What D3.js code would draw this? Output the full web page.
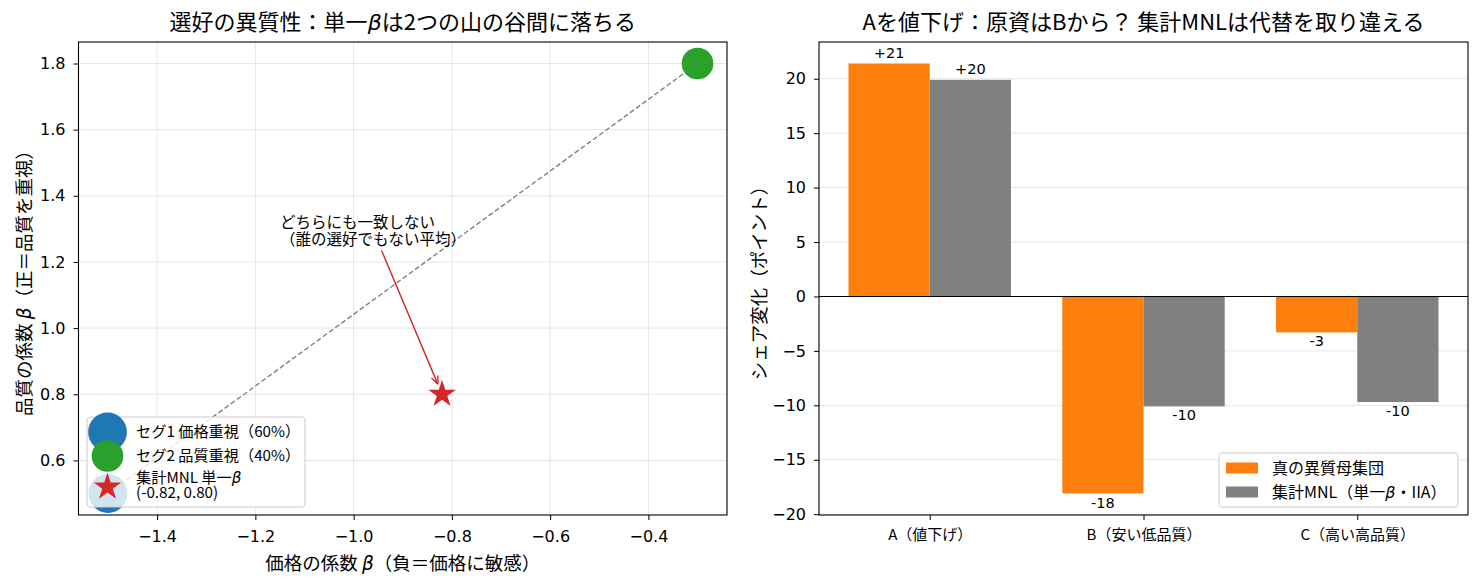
<!DOCTYPE html>
<html>
<head>
<meta charset="utf-8">
<script src="https://cdn.jsdelivr.net/npm/d3@7"></script>
<style>
  body { margin: 0; background: #fff; }
  text { font-family: "Noto Sans CJK JP", sans-serif; fill: #000; }
  .tick text { font-family: "DejaVu Sans", sans-serif; }
</style>
</head>
<body>
<script>
// ---- data ----
var segNames = ["セグ1 価格重視（60%）", "セグ2 品質重視（40%）"];
var segPrice = [-1.5, -0.3];
var segQuality = [0.5, 1.8];
var segShare = [60, 40];
var segColors = ["#1f77b4", "#2ca02c"];
var mnlPoint = [-0.82, 0.80];
var mnlLabel = ["集計MNL 単一β", "(-0.82, 0.80)"];
var noteLines = ["どちらにも一致しない", "（誰の選好でもない平均）"];
var notePos = [-1.15, 1.25];
var priceTicks = [-1.4, -1.2, -1.0, -0.8, -0.6, -0.4];
var qualityTicks = [0.6, 0.8, 1.0, 1.2, 1.4, 1.6, 1.8];

var products = ["A（値下げ）", "B（安い低品質）", "C（高い高品質）"];
var trueShift = [21.4, -18.1, -3.3];
var mnlShift = [19.9, -10.1, -9.7];
var seriesNames = ["真の異質母集団", "集計MNL（単一β・IIA）"];
var seriesColors = ["#ff7f0e", "#808080"];
var shiftTicks = [-20, -15, -10, -5, 0, 5, 10, 15, 20];

var W = 1480, H = 584;
var svg = d3.select("body").append("svg").attr("width", W).attr("height", H);

var gridColor = "#e6e6e6";

function pad(ext, f) {
  var d = (ext[1] - ext[0]) * f;
  return [ext[0] - d, ext[1] + d];
}

// β is drawn as italic like matplotlib mathtext
function richText(sel, str) {
  str.split(/(β)/).forEach(function (part) {
    if (!part) return;
    var t = sel.append("tspan").text(part);
    if (part === "β") t.style("font-family", "DejaVu Sans").style("font-style", "italic");
  });
}

// ================= left: scatter =================
var L = { x0: 78.5, x1: 727, y0: 42, y1: 515 };
var gL = svg.append("g");

var x = d3.scaleLinear()
  .domain(pad(d3.extent(segPrice.concat([mnlPoint[0]])), 0.05))
  .range([L.x0, L.x1]);
var y = d3.scaleLinear()
  .domain(pad(d3.extent(segQuality.concat([mnlPoint[1]])), 0.05))
  .range([L.y1, L.y0]);

gL.selectAll(".vgrid").data(priceTicks).enter().append("line")
  .attr("x1", d => x(d)).attr("x2", d => x(d)).attr("y1", L.y0).attr("y2", L.y1)
  .attr("stroke", gridColor).attr("stroke-width", 1);
gL.selectAll(".hgrid").data(qualityTicks).enter().append("line")
  .attr("x1", L.x0).attr("x2", L.x1).attr("y1", d => y(d)).attr("y2", d => y(d))
  .attr("stroke", gridColor).attr("stroke-width", 1);

gL.append("line")
  .attr("x1", x(segPrice[0])).attr("y1", y(segQuality[0]))
  .attr("x2", x(segPrice[1])).attr("y2", y(segQuality[1]))
  .attr("stroke", "#808080").attr("stroke-width", 1.4).attr("stroke-dasharray", "5,2.6");

var r = d3.scaleSqrt().domain([0, 60]).range([0, 19.4]);
gL.selectAll(".seg").data(segPrice).enter().append("circle")
  .attr("cx", (d, i) => x(d)).attr("cy", (d, i) => y(segQuality[i]))
  .attr("r", (d, i) => r(segShare[i])).attr("fill", (d, i) => segColors[i]);

var starR = 14.5;
var star = d3.symbol().type(d3.symbolStar).size(starR * starR / 0.8908130915292852);
gL.append("path").attr("d", star())
  .attr("transform", "translate(" + x(mnlPoint[0]) + "," + y(mnlPoint[1]) + ")")
  .attr("fill", "#d62728");

// annotation
var note = gL.append("text").attr("font-size", 15.5);
noteLines.forEach(function (s, i) {
  note.append("tspan").attr("x", x(notePos[0]))
    .attr("y", y(notePos[1]) - 17 * (noteLines.length - 1 - i)).text(s);
});
var bb = note.node().getBBox();
var cx = bb.x + bb.width / 2, cy = bb.y + bb.height / 2;
var tx = x(mnlPoint[0]), ty = y(mnlPoint[1]);
var t0 = (bb.y + bb.height + 1 - cy) / (ty - cy);
var sx = cx + (tx - cx) * t0, sy = cy + (ty - cy) * t0;
var len = Math.hypot(tx - sx, ty - sy);
var ux = (tx - sx) / len, uy = (ty - sy) / len;
var ex = tx - ux * 11, ey = ty - uy * 11;
gL.append("line").attr("x1", sx).attr("y1", sy).attr("x2", ex).attr("y2", ey)
  .attr("stroke", "#d62728").attr("stroke-width", 1.4);
[1, -1].forEach(function (s) {
  gL.append("line").attr("x1", ex).attr("y1", ey)
    .attr("x2", ex - ux * 8 + s * uy * 3.5).attr("y2", ey - uy * 8 - s * ux * 3.5)
    .attr("stroke", "#d62728").attr("stroke-width", 1.4);
});

// axes
gL.append("g").attr("transform", "translate(0," + L.y1 + ")")
  .call(d3.axisBottom(x).tickValues(priceTicks).tickFormat(d3.format(".1f")).tickSize(5).tickPadding(11))
  .call(g => g.select(".domain").remove())
  .selectAll("text").attr("font-size", 16);
gL.append("g").attr("transform", "translate(" + L.x0 + ",0)")
  .call(d3.axisLeft(y).tickValues(qualityTicks).tickFormat(d3.format(".1f")).tickSize(5).tickPadding(8))
  .call(g => g.select(".domain").remove())
  .selectAll("text").attr("font-size", 16);

// legend
var lg = gL.append("g");
lg.append("rect").attr("x", 87).attr("y", 417).attr("width", 218).attr("height", 90)
  .attr("rx", 3).attr("fill", "#fff").attr("fill-opacity", 0.8)
  .attr("stroke", "#cccccc").attr("stroke-width", 1);
var legRows = [432, 456];
segNames.forEach(function (n, i) {
  lg.append("circle").attr("cx", 107.5).attr("cy", legRows[i]).attr("r", r(segShare[i]))
    .attr("fill", segColors[i]);
  lg.append("text").attr("x", 136).attr("y", legRows[i]).attr("dy", "0.36em")
    .attr("font-size", 15.2).text(n);
});
lg.append("path").attr("d", star()).attr("transform", "translate(107.5,487)").attr("fill", "#d62728");
mnlLabel.forEach(function (s, i) {
  var t = lg.append("text").attr("x", 136).attr("y", 478 + i * 14.5).attr("dy", "0.36em").attr("font-size", 15.2);
  richText(t, s);
});

gL.append("rect").attr("x", L.x0).attr("y", L.y0).attr("width", L.x1 - L.x0).attr("height", L.y1 - L.y0)
  .attr("fill", "none").attr("stroke", "#000").attr("stroke-width", 1.1);

var tL = gL.append("text").attr("x", (L.x0 + L.x1) / 2).attr("y", 30)
  .attr("text-anchor", "middle").attr("font-size", 22);
richText(tL, "選好の異質性：単一βは2つの山の谷間に落ちる");
var xl = gL.append("text").attr("x", (L.x0 + L.x1) / 2).attr("y", 570)
  .attr("text-anchor", "middle").attr("font-size", 18.5);
richText(xl, "価格の係数 β（負＝価格に敏感）");
var yl = gL.append("text").attr("transform", "translate(31," + (L.y0 + L.y1) / 2 + ") rotate(-90)")
  .attr("text-anchor", "middle").attr("font-size", 18.5);
richText(yl, "品質の係数 β（正＝品質を重視）");

// ================= right: bars =================
var R = { x0: 819, x1: 1468, y0: 42, y1: 515 };
var gR = svg.append("g");
var bw = 0.38;

var xb = d3.scaleLinear()
  .domain(pad([-bw, products.length - 1 + bw], 0.05))
  .range([R.x0, R.x1]);
var yb = d3.scaleLinear()
  .domain(pad(d3.extent(trueShift.concat(mnlShift, [0])), 0.05))
  .range([R.y1, R.y0]);

gR.selectAll(".hgrid").data(shiftTicks).enter().append("line")
  .attr("x1", R.x0).attr("x2", R.x1).attr("y1", d => yb(d)).attr("y2", d => yb(d))
  .attr("stroke", gridColor).attr("stroke-width", 1);

[trueShift, mnlShift].forEach(function (vals, s) {
  gR.selectAll(".bar" + s).data(vals).enter().append("rect")
    .attr("x", (d, i) => xb(i - bw + s * bw))
    .attr("width", xb(bw) - xb(0))
    .attr("y", d => yb(Math.max(0, d)))
    .attr("height", d => Math.abs(yb(d) - yb(0)))
    .attr("fill", seriesColors[s]);
  gR.selectAll(".lab" + s).data(vals).enter().append("text")
    .attr("x", (d, i) => xb(i - bw / 2 + s * bw))
    .attr("y", d => d >= 0 ? yb(d) - 6 : yb(d) + 3)
    .attr("dy", d => d >= 0 ? "0" : "0.76em")
    .attr("text-anchor", "middle").attr("font-size", 14.5)
    .style("font-family", "DejaVu Sans")
    .text(d => (d >= 0 ? "+" : "-") + Math.round(Math.abs(d)));
});

gR.append("line").attr("x1", R.x0).attr("x2", R.x1).attr("y1", yb(0)).attr("y2", yb(0))
  .attr("stroke", "#000").attr("stroke-width", 1.1);

gR.append("g").attr("transform", "translate(0," + R.y1 + ")")
  .call(d3.axisBottom(xb).tickValues(d3.range(products.length)).tickFormat((d, i) => products[i]).tickSize(5).tickPadding(9))
  .call(g => g.select(".domain").remove())
  .selectAll("text").attr("font-size", 15).style("font-family", "Noto Sans CJK JP");
gR.append("g").attr("transform", "translate(" + R.x0 + ",0)")
  .call(d3.axisLeft(yb).tickValues(shiftTicks).tickSize(5).tickPadding(8))
  .call(g => g.select(".domain").remove())
  .selectAll("text").attr("font-size", 16);

// legend
var lr = gR.append("g");
lr.append("rect").attr("x", 1219).attr("y", 453).attr("width", 239).attr("height", 54)
  .attr("rx", 3).attr("fill", "#fff").attr("fill-opacity", 0.8)
  .attr("stroke", "#cccccc").attr("stroke-width", 1);
seriesNames.forEach(function (n, i) {
  var cyy = 468 + i * 24;
  lr.append("rect").attr("x", 1226).attr("y", cyy - 5.5).attr("width", 32).attr("height", 11)
    .attr("fill", seriesColors[i]);
  var t = lr.append("text").attr("x", 1272).attr("y", cyy).attr("dy", "0.36em").attr("font-size", 16);
  richText(t, n);
});

gR.append("rect").attr("x", R.x0).attr("y", R.y0).attr("width", R.x1 - R.x0).attr("height", R.y1 - R.y0)
  .attr("fill", "none").attr("stroke", "#000").attr("stroke-width", 1.1);

gR.append("text").attr("x", (R.x0 + R.x1) / 2).attr("y", 30)
  .attr("text-anchor", "middle").attr("font-size", 22)
  .text("Aを値下げ：原資はBから？ 集計MNLは代替を取り違える");
gR.append("text").attr("transform", "translate(766," + (R.y0 + R.y1) / 2 + ") rotate(-90)")
  .attr("text-anchor", "middle").attr("font-size", 18.5)
  .text("シェア変化（ポイント）");
</script>
</body>
</html>
